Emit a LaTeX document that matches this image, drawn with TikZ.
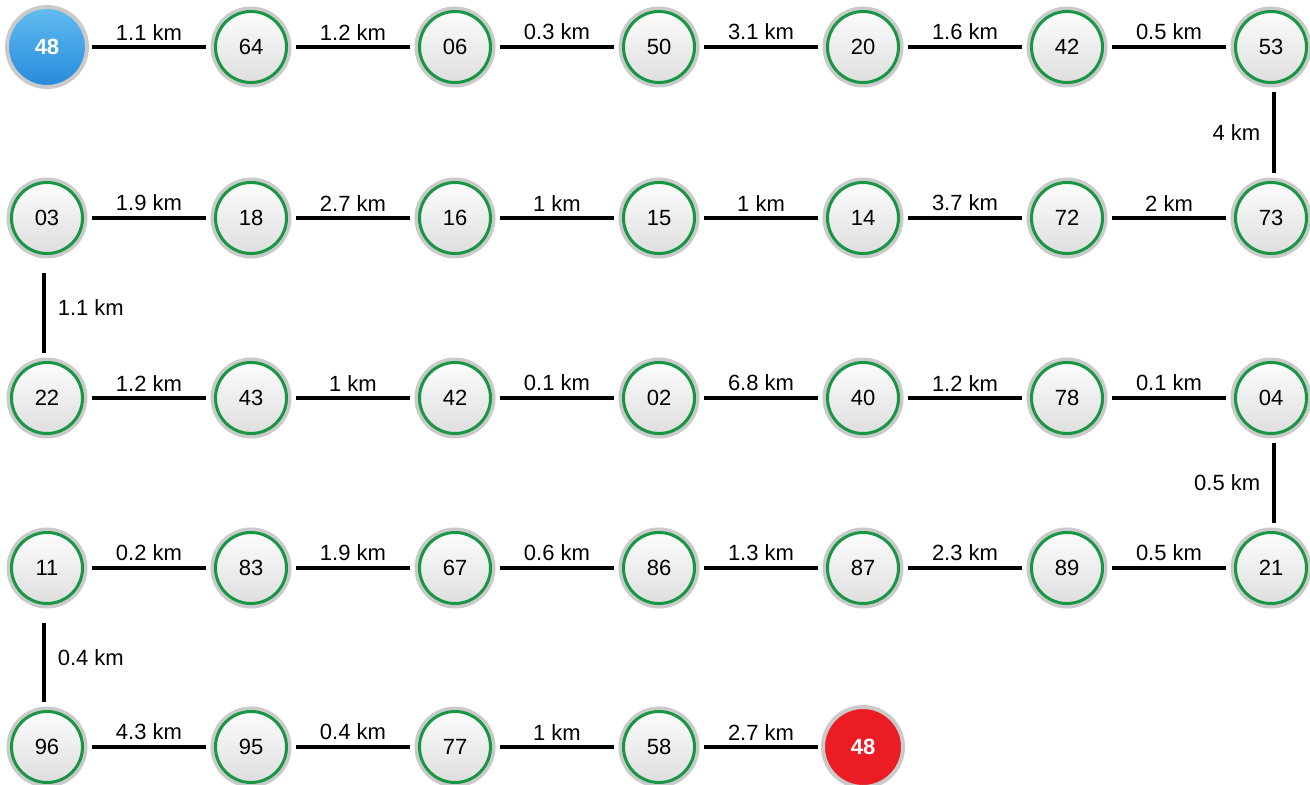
\documentclass[tikz,border=0pt]{standalone}
\usepackage{fontspec}
\setmainfont{Liberation Sans}
\usetikzlibrary{positioning}
\definecolor{ringgreen}{RGB}{24,150,68}
\definecolor{ringgray}{RGB}{202,202,202}
\definecolor{startblue}{RGB}{98,188,240}
\definecolor{startbluedark}{RGB}{38,138,220}
\definecolor{endred}{RGB}{236,28,36}

\begin{document}
\begin{tikzpicture}[font=\fontsize{11}{13}\selectfont,
	town/.style={circle, minimum size=35.5pt, inner sep=0pt, outer sep=4.75pt, draw=ringgreen, line width=1.5pt, top color=black!1, bottom color=black!13, preaction={draw=ringgray, line width=5pt}},
	endtown/.style={circle, minimum size=40pt, inner sep=0pt, outer sep=2.5pt, draw=ringgray, line width=2pt, text=white, font=\fontsize{11}{13}\selectfont\bfseries},
	road/.style={line width=1.8pt},
	km/.style={inner sep=1pt}]
	\useasboundingbox (0,0) rectangle (655pt,-392.5pt);
	\node[endtown, top color=startblue, bottom color=startbluedark] (s1) at (23.5pt,-23.5pt) {48};
	\node[town, right=57pt of s1] (s2) {64};
	\node[town, right=57pt of s2] (s3) {06};
	\node[town, right=57pt of s3] (s4) {50};
	\node[town, right=57pt of s4] (s5) {20};
	\node[town, right=57pt of s5] (s6) {42};
	\node[town, right=57pt of s6] (s7) {53};
	\node[town, below=40.5pt of s7] (s8) {73};
	\node[town, left=57pt of s8] (s9) {72};
	\node[town, left=57pt of s9] (s10) {14};
	\node[town, left=57pt of s10] (s11) {15};
	\node[town, left=57pt of s11] (s12) {16};
	\node[town, left=57pt of s12] (s13) {18};
	\node[town, left=57pt of s13] (s14) {03};
	\node[town, below=45pt of s14] (s15) {22};
	\node[town, right=57pt of s15] (s16) {43};
	\node[town, right=57pt of s16] (s17) {42};
	\node[town, right=57pt of s17] (s18) {02};
	\node[town, right=57pt of s18] (s19) {40};
	\node[town, right=57pt of s19] (s20) {78};
	\node[town, right=57pt of s20] (s21) {04};
	\node[town, below=40pt of s21] (s22) {21};
	\node[town, left=57pt of s22] (s23) {89};
	\node[town, left=57pt of s23] (s24) {87};
	\node[town, left=57pt of s24] (s25) {86};
	\node[town, left=57pt of s25] (s26) {67};
	\node[town, left=57pt of s26] (s27) {83};
	\node[town, left=57pt of s27] (s28) {11};
	\node[town, below=44.5pt of s28] (s29) {96};
	\node[town, right=57pt of s29] (s30) {95};
	\node[town, right=57pt of s30] (s31) {77};
	\node[town, right=57pt of s31] (s32) {58};
	\node[endtown, fill=endred, right=57pt of s32] (s33) {48};
	\draw[road] (s1) -- node[km, above=1.5pt] {1.1 km} (s2);
	\draw[road] (s2) -- node[km, above=1.5pt] {1.2 km} (s3);
	\draw[road] (s3) -- node[km, above=1.5pt] {0.3 km} (s4);
	\draw[road] (s4) -- node[km, above=1.5pt] {3.1 km} (s5);
	\draw[road] (s5) -- node[km, above=1.5pt] {1.6 km} (s6);
	\draw[road] (s6) -- node[km, above=1.5pt] {0.5 km} (s7);
	\draw[road] ([xshift=1.5pt]s7.south) -- node[km, left=5pt] {4 km} ([xshift=1.5pt]s8.north);
	\draw[road] (s8) -- node[km, above=1.5pt] {2 km} (s9);
	\draw[road] (s9) -- node[km, above=1.5pt] {3.7 km} (s10);
	\draw[road] (s10) -- node[km, above=1.5pt] {1 km} (s11);
	\draw[road] (s11) -- node[km, above=1.5pt] {1 km} (s12);
	\draw[road] (s12) -- node[km, above=1.5pt] {2.7 km} (s13);
	\draw[road] (s13) -- node[km, above=1.5pt] {1.9 km} (s14);
	\draw[road, shorten <=5pt] ([xshift=-1.5pt]s14.south) -- node[km, right=5pt] {1.1 km} ([xshift=-1.5pt]s15.north);
	\draw[road] (s15) -- node[km, above=1.5pt] {1.2 km} (s16);
	\draw[road] (s16) -- node[km, above=1.5pt] {1 km} (s17);
	\draw[road] (s17) -- node[km, above=1.5pt] {0.1 km} (s18);
	\draw[road] (s18) -- node[km, above=1.5pt] {6.8 km} (s19);
	\draw[road] (s19) -- node[km, above=1.5pt] {1.2 km} (s20);
	\draw[road] (s20) -- node[km, above=1.5pt] {0.1 km} (s21);
	\draw[road] ([xshift=1.5pt]s21.south) -- node[km, left=5pt] {0.5 km} ([xshift=1.5pt]s22.north);
	\draw[road] (s22) -- node[km, above=1.5pt] {0.5 km} (s23);
	\draw[road] (s23) -- node[km, above=1.5pt] {2.3 km} (s24);
	\draw[road] (s24) -- node[km, above=1.5pt] {1.3 km} (s25);
	\draw[road] (s25) -- node[km, above=1.5pt] {0.6 km} (s26);
	\draw[road] (s26) -- node[km, above=1.5pt] {1.9 km} (s27);
	\draw[road] (s27) -- node[km, above=1.5pt] {0.2 km} (s28);
	\draw[road, shorten <=5pt] ([xshift=-1.5pt]s28.south) -- node[km, right=5pt] {0.4 km} ([xshift=-1.5pt]s29.north);
	\draw[road] (s29) -- node[km, above=1.5pt] {4.3 km} (s30);
	\draw[road] (s30) -- node[km, above=1.5pt] {0.4 km} (s31);
	\draw[road] (s31) -- node[km, above=1.5pt] {1 km} (s32);
	\draw[road] (s32) -- node[km, above=1.5pt] {2.7 km} (s33);
\end{tikzpicture}
\end{document}
